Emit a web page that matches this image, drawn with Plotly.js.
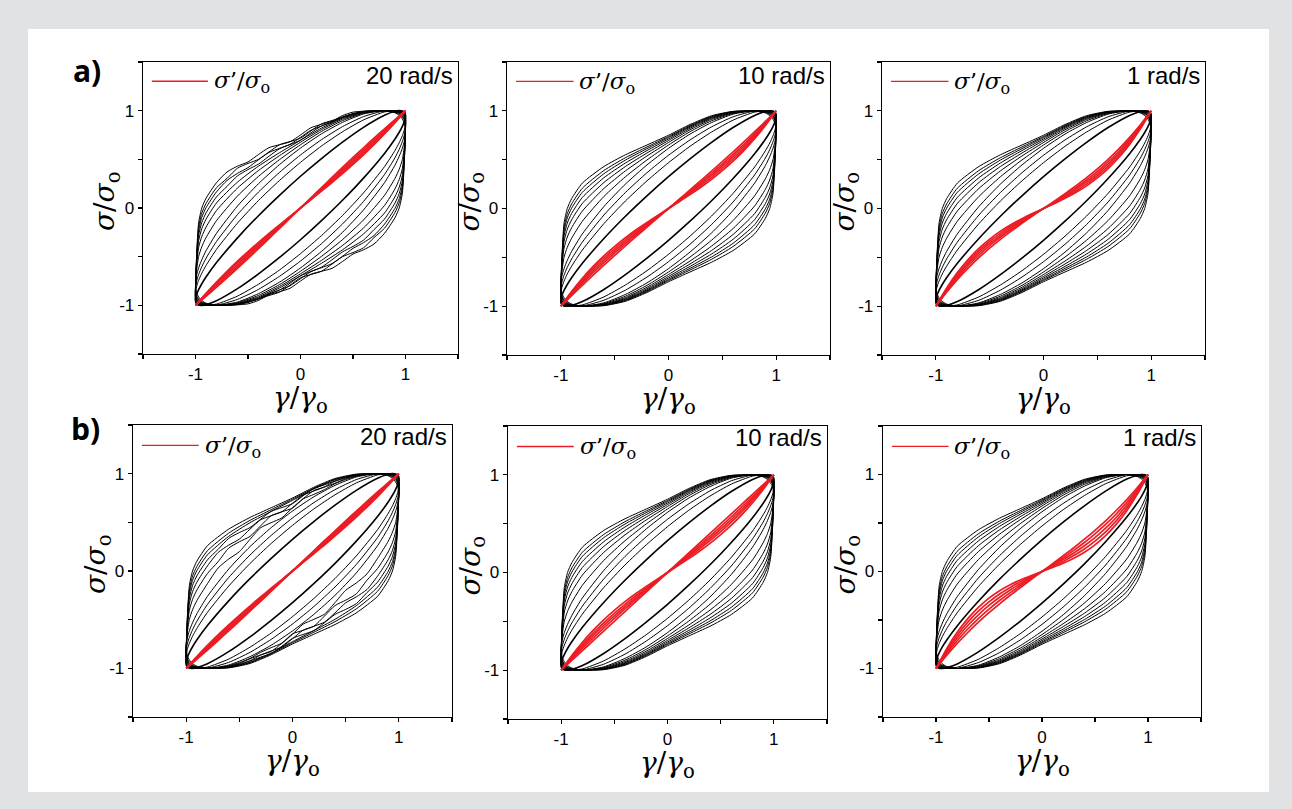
<!DOCTYPE html>
<html><head><meta charset="utf-8">
<script src="https://cdn.plot.ly/plotly-3.0.1.min.js"></script>
<style>html,body{margin:0;padding:0;background:#e1e2e4;}#chart{width:1292px;height:809px;}</style>
</head><body><div id="chart"></div>
<script>
// ---------- data ----------
const PANEL_RATES = ['20 rad/s', '10 rad/s', '1 rad/s', '20 rad/s', '10 rad/s', '1 rad/s'];
const PANEL_LETTERS = ['a)', 'b)'];
// tick marks at every half unit; labels only at -1, 0, 1
const TICK_VALS = [-1.5, -1, -0.5, 0, 0.5, 1, 1.5];
const TICK_TEXT = ['', '-1', '', '0', '', '1', ''];

// strain grid of the upper (strain-increasing) branch of a loop
const LOOP_X = [-1, -0.99, -0.97, -0.94, -0.9, -0.8, -0.6, -0.4, -0.2, 0, 0.2, 0.4, 0.6, 0.8, 0.9, 0.94, 0.97, 0.99, 1];
// finer grid used for the loops that show small wiggles
const FINE_X = [-1, -0.99, -0.97, -0.94, -0.9, -0.8, -0.7, -0.6, -0.5, -0.4, -0.3, -0.2, -0.1, 0, 0.1, 0.2, 0.3, 0.4, 0.5, 0.6, 0.7, 0.8, 0.9, 0.94, 0.97, 0.99, 1];

// normalized stress on the upper branch, one row per strain amplitude (inner -> outer)
const loopsBase = [
  [-0.946, -0.891, -0.839, -0.778, -0.709, -0.561, -0.307, -0.079, 0.130, 0.326, 0.508, 0.677, 0.829, 0.953, 0.993, 1.000, 0.997, 0.983, 0.946],
  [-0.883, -0.808, -0.743, -0.670, -0.591, -0.425, -0.155, 0.077, 0.283, 0.469, 0.637, 0.783, 0.905, 0.987, 0.999, 0.990, 0.971, 0.940, 0.883],
  [-0.839, -0.754, -0.682, -0.603, -0.517, -0.344, -0.067, 0.164, 0.366, 0.545, 0.702, 0.836, 0.939, 0.998, 0.993, 0.975, 0.946, 0.908, 0.839],
  [-0.788, -0.693, -0.614, -0.531, -0.440, -0.260, 0.020, 0.250, 0.446, 0.616, 0.762, 0.880, 0.966, 1.000, 0.978, 0.951, 0.914, 0.867, 0.788],
  [-0.834, -0.645, -0.498, -0.398, -0.305, -0.130, 0.123, 0.325, 0.497, 0.650, 0.787, 0.898, 0.973, 1.000, 0.984, 0.963, 0.934, 0.898, 0.834],
  [-0.870, -0.606, -0.405, -0.292, -0.197, -0.026, 0.205, 0.385, 0.538, 0.676, 0.806, 0.912, 0.979, 1.000, 0.988, 0.973, 0.950, 0.922, 0.870],
  [-0.897, -0.577, -0.336, -0.212, -0.116, 0.052, 0.266, 0.430, 0.568, 0.696, 0.821, 0.922, 0.983, 1.000, 0.991, 0.980, 0.963, 0.941, 0.897],
  [-0.919, -0.554, -0.280, -0.149, -0.051, 0.114, 0.315, 0.466, 0.593, 0.712, 0.833, 0.930, 0.987, 1.000, 0.994, 0.986, 0.972, 0.956, 0.919],
  [-0.937, -0.535, -0.234, -0.096, 0.003, 0.166, 0.356, 0.496, 0.613, 0.726, 0.842, 0.937, 0.990, 1.000, 0.996, 0.991, 0.980, 0.968, 0.937],
  [-0.952, -0.519, -0.196, -0.053, 0.046, 0.208, 0.389, 0.520, 0.630, 0.737, 0.850, 0.943, 0.992, 1.000, 0.998, 0.995, 0.987, 0.978, 0.952],
  [-0.970, -0.500, -0.150, 0.000, 0.100, 0.260, 0.430, 0.550, 0.650, 0.750, 0.860, 0.950, 0.995, 1.000, 1.000, 1.000, 0.995, 0.990, 0.970]
];
// a) 20 rad/s: the four outer loops are slightly wavy (FINE_X grid)
const wavyA1 = [
  [-0.919, -0.554, -0.280, -0.149, -0.051, 0.114, 0.222, 0.330, 0.395, 0.451, 0.532, 0.608, 0.652, 0.697, 0.773, 0.843, 0.885, 0.930, 0.963, 0.987, 0.997, 1.000, 0.994, 0.986, 0.972, 0.956, 0.919],
  [-0.937, -0.535, -0.234, -0.096, 0.003, 0.166, 0.283, 0.356, 0.415, 0.496, 0.571, 0.613, 0.654, 0.726, 0.799, 0.842, 0.882, 0.937, 0.967, 0.990, 0.998, 1.000, 0.996, 0.991, 0.980, 0.968, 0.937],
  [-0.952, -0.519, -0.196, -0.053, 0.046, 0.208, 0.304, 0.409, 0.458, 0.500, 0.576, 0.650, 0.683, 0.717, 0.793, 0.865, 0.899, 0.933, 0.971, 0.992, 0.999, 1.000, 0.998, 0.995, 0.987, 0.978, 0.952],
  [-0.970, -0.500, -0.150, 0.000, 0.100, 0.260, 0.370, 0.430, 0.473, 0.550, 0.620, 0.650, 0.680, 0.750, 0.825, 0.860, 0.892, 0.950, 0.985, 0.995, 1.000, 1.000, 1.000, 1.000, 0.995, 0.990, 0.970]
];
// b) 20 rad/s: the middle loops are wavy (FINE_X grid)
const wavyB1 = [
  [-0.834, -0.645, -0.498, -0.398, -0.305, -0.130, 0.030, 0.123, 0.198, 0.325, 0.444, 0.497, 0.546, 0.650, 0.741, 0.787, 0.836, 0.898, 0.940, 0.973, 0.992, 1.000, 0.984, 0.963, 0.934, 0.898, 0.834],
  [-0.870, -0.606, -0.405, -0.292, -0.197, -0.026, 0.095, 0.235, 0.300, 0.355, 0.464, 0.568, 0.609, 0.646, 0.743, 0.826, 0.862, 0.902, 0.949, 0.979, 0.994, 1.000, 0.988, 0.973, 0.950, 0.922, 0.870],
  [-0.897, -0.577, -0.336, -0.212, -0.116, 0.052, 0.190, 0.266, 0.327, 0.430, 0.526, 0.568, 0.608, 0.696, 0.780, 0.821, 0.864, 0.922, 0.956, 0.983, 0.995, 1.000, 0.991, 0.980, 0.963, 0.941, 0.897],
  [-0.919, -0.554, -0.280, -0.149, -0.051, 0.114, 0.222, 0.335, 0.395, 0.446, 0.532, 0.613, 0.652, 0.692, 0.773, 0.848, 0.885, 0.925, 0.963, 0.987, 0.997, 1.000, 0.994, 0.986, 0.972, 0.956, 0.919]
];

// elastic stress sigma'/sigma_o, x >= 0 half (odd curves)
const RED_X = [0, 0.1, 0.2, 0.3, 0.4, 0.5, 0.6, 0.7, 0.8, 0.9, 1];
const redA1 = [
  [0, 0.105, 0.210, 0.314, 0.417, 0.519, 0.619, 0.718, 0.814, 0.909, 1],
  [0, 0.100, 0.200, 0.300, 0.400, 0.500, 0.600, 0.700, 0.800, 0.900, 1],
  [0, 0.095, 0.190, 0.286, 0.383, 0.481, 0.581, 0.682, 0.786, 0.891, 1],
  [0, 0.090, 0.181, 0.273, 0.366, 0.463, 0.562, 0.664, 0.771, 0.883, 1],
  [0, 0.086, 0.173, 0.262, 0.353, 0.448, 0.546, 0.650, 0.760, 0.876, 1]
];
const redA2 = [
  [0, 0.095, 0.190, 0.286, 0.383, 0.481, 0.581, 0.682, 0.786, 0.891, 1],
  [0, 0.088, 0.177, 0.267, 0.360, 0.455, 0.554, 0.657, 0.765, 0.879, 1],
  [0, 0.082, 0.165, 0.251, 0.340, 0.433, 0.531, 0.636, 0.748, 0.869, 1],
  [0, 0.076, 0.154, 0.234, 0.319, 0.410, 0.508, 0.614, 0.731, 0.859, 1],
  [0, 0.070, 0.142, 0.218, 0.299, 0.388, 0.485, 0.593, 0.714, 0.849, 1]
];
const redA3 = [
  [0, 0.075, 0.152, 0.232, 0.316, 0.406, 0.504, 0.611, 0.728, 0.857, 1],
  [0, 0.068, 0.139, 0.213, 0.292, 0.380, 0.477, 0.586, 0.708, 0.845, 1],
  [0, 0.062, 0.127, 0.196, 0.272, 0.358, 0.454, 0.564, 0.691, 0.835, 1],
  [0, 0.056, 0.116, 0.180, 0.252, 0.335, 0.431, 0.543, 0.673, 0.825, 1],
  [0, 0.050, 0.104, 0.164, 0.232, 0.313, 0.408, 0.522, 0.656, 0.815, 1]
];
const redB1 = [
  [0, 0.104, 0.208, 0.311, 0.413, 0.515, 0.615, 0.714, 0.812, 0.907, 1],
  [0, 0.100, 0.200, 0.300, 0.400, 0.500, 0.600, 0.700, 0.800, 0.900, 1],
  [0, 0.096, 0.192, 0.289, 0.387, 0.485, 0.585, 0.686, 0.788, 0.893, 1],
  [0, 0.092, 0.185, 0.278, 0.373, 0.470, 0.569, 0.671, 0.777, 0.886, 1],
  [0, 0.088, 0.177, 0.267, 0.360, 0.455, 0.554, 0.657, 0.765, 0.879, 1]
];
const redB2 = [
  [0, 0.100, 0.200, 0.300, 0.400, 0.500, 0.600, 0.700, 0.800, 0.900, 1],
  [0, 0.092, 0.185, 0.278, 0.373, 0.470, 0.569, 0.671, 0.777, 0.886, 1],
  [0, 0.085, 0.171, 0.259, 0.350, 0.444, 0.542, 0.646, 0.757, 0.874, 1],
  [0, 0.078, 0.158, 0.240, 0.326, 0.418, 0.516, 0.621, 0.737, 0.862, 1],
  [0, 0.070, 0.142, 0.218, 0.299, 0.388, 0.485, 0.593, 0.714, 0.849, 1]
];
const redB3 = [
  [0, 0.080, 0.162, 0.245, 0.333, 0.425, 0.523, 0.629, 0.742, 0.866, 1],
  [0, 0.070, 0.142, 0.218, 0.299, 0.388, 0.485, 0.593, 0.714, 0.849, 1],
  [0, 0.060, 0.123, 0.191, 0.266, 0.350, 0.446, 0.557, 0.685, 0.832, 1],
  [0, 0.050, 0.104, 0.164, 0.232, 0.313, 0.408, 0.522, 0.656, 0.815, 1],
  [0, 0.041, 0.085, 0.136, 0.198, 0.275, 0.370, 0.486, 0.627, 0.797, 1]
];

// ---------- layout helpers ----------
const W = 1292, H = 809;
const px = v => v / W;
const py = v => 1 - v / H;
// plot-area boxes in pixels [left, right, top, bottom]
const BOXES = [
  [143, 458, 62, 354], [507, 830, 62, 355], [882, 1205, 62, 355],
  [133, 452, 425, 717], [508, 827, 426, 719], [883, 1201, 426, 717]
];
const panels = [
  {smooth: loopsBase.slice(0, 7), wavy: wavyA1, red: redA1},
  {smooth: loopsBase, wavy: [], red: redA2},
  {smooth: loopsBase, wavy: [], red: redA3},
  {smooth: loopsBase.slice(0, 4).concat(loopsBase.slice(8)), wavy: wavyB1, red: redB1},
  {smooth: loopsBase, wavy: [], red: redB2},
  {smooth: loopsBase, wavy: [], red: redB3}
];

const SANS = 'Liberation Sans';
const SERIF = 'DejaVu Serif';
const TITLE_SIZE = 28, LEG_SIZE = 23;
const X_TITLE = '<i>γ</i>/<i>γ</i><sub>o</sub>';
const Y_TITLE = '<i>σ</i>/<i>σ</i><sub>o</sub>';
const LEG_TEXT = '<i>σ</i>’/<i>σ</i><sub>o</sub>';
const RED = 'rgb(236,28,36)';

const traces = [];
const layout = {
  width: W, height: H,
  margin: {l: 0, r: 0, t: 0, b: 0},
  paper_bgcolor: '#e1e2e4', plot_bgcolor: 'rgba(0,0,0,0)',
  showlegend: false,
  font: {family: SANS, size: 17, color: '#000000'},
  shapes: [{type: 'rect', xref: 'paper', yref: 'paper', x0: px(28), x1: px(1269), y0: py(792), y1: py(29),
            fillcolor: '#ffffff', line: {width: 0}, layer: 'below'}],
  annotations: []
};

function axisBase() {
  return {
    range: [-1.5, 1.5], tickmode: 'array', tickvals: TICK_VALS.slice(), ticktext: TICK_TEXT.slice(),
    ticks: 'outside', ticklen: 4, tickwidth: 1.2, tickcolor: '#000000',
    showline: true, linecolor: '#000000', linewidth: 1.3, mirror: true,
    showgrid: false, zeroline: false, fixedrange: true,
    tickfont: {family: SANS, size: 17, color: '#000000'}
  };
}

function loopTrace(grid, vals, xa, ya, w) {
  const xs = grid.concat(grid.slice(1).map(v => -v));
  const ys = vals.concat(vals.slice(1).map(v => -v));
  return {x: xs, y: ys, xaxis: xa, yaxis: ya, mode: 'lines', hoverinfo: 'skip',
    line: {color: '#000000', width: w, shape: 'spline', smoothing: 0.6}};
}

panels.forEach((p, i) => {
  const n = i === 0 ? '' : String(i + 1);
  const xa = 'x' + n, ya = 'y' + n;
  const b = BOXES[i];
  const row = i < 3 ? 0 : 1;
  p.smooth.forEach((v, k) => traces.push(loopTrace(LOOP_X, v, xa, ya, k === 0 ? 1.6 : 1)));
  p.wavy.forEach(v => traces.push(loopTrace(FINE_X, v, xa, ya, 1)));
  p.red.forEach(c => {
    const xs = RED_X.slice(1).reverse().map(v => -v).concat(RED_X);
    const ys = c.slice(1).reverse().map(v => -v).concat(c);
    traces.push({x: xs, y: ys, xaxis: xa, yaxis: ya, mode: 'lines', hoverinfo: 'skip',
      line: {color: RED, width: 1.7, shape: 'spline', smoothing: 0.6}});
  });
  const xax = axisBase();
  xax.domain = [px(b[0]), px(b[1])];
  xax.anchor = ya;
  const yax = axisBase();
  yax.domain = [py(b[3]), py(b[2])];
  yax.anchor = xa;
  layout['xaxis' + n] = xax;
  layout['yaxis' + n] = yax;
  // axis titles
  layout.annotations.push({xref: 'paper', yref: 'paper', x: px((b[0] + b[1]) / 2), y: py(b[3] + 45),
    xanchor: 'center', yanchor: 'middle', showarrow: false, text: X_TITLE,
    font: {family: SERIF, size: TITLE_SIZE, color: '#000000'}});
  layout.annotations.push({xref: 'paper', yref: 'paper', x: px(b[0] - 36), y: py((b[2] + b[3]) / 2 - 6),
    xanchor: 'center', yanchor: 'middle', showarrow: false, textangle: -90, text: Y_TITLE,
    font: {family: SERIF, size: TITLE_SIZE, color: '#000000'}});
  // legend sample + labels
  const ly = row === 0 ? 0.934 : 0.93;
  layout.shapes.push({type: 'line', xref: xa + ' domain', yref: ya + ' domain',
    x0: 0.028, x1: 0.206, y0: ly, y1: ly, line: {color: RED, width: 1.3}});
  layout.annotations.push({xref: xa + ' domain', yref: ya + ' domain', x: 0.218, y: ly - 0.004,
    xanchor: 'left', yanchor: 'middle', showarrow: false, text: LEG_TEXT,
    font: {family: SERIF, size: LEG_SIZE, color: '#000000'}});
  layout.annotations.push({xref: xa + ' domain', yref: ya + ' domain', x: 0.99, y: row === 0 ? 0.953 : 0.962,
    xanchor: 'right', yanchor: 'middle', showarrow: false, text: PANEL_RATES[i],
    font: {family: SANS, size: 24, color: '#000000'}});
});

layout.annotations.push({xref: 'paper', yref: 'paper', x: px(87), y: py(71), xanchor: 'center', yanchor: 'middle',
  showarrow: false, text: '<b>' + PANEL_LETTERS[0] + '</b>', font: {family: 'Open Sans', size: 30, color: '#000000'}});
layout.annotations.push({xref: 'paper', yref: 'paper', x: px(85), y: py(428), xanchor: 'center', yanchor: 'middle',
  showarrow: false, text: '<b>' + PANEL_LETTERS[1] + '</b>', font: {family: 'Open Sans', size: 30, color: '#000000'}});

Plotly.newPlot('chart', traces, layout, {staticPlot: true, displayModeBar: false});
</script></body></html>
